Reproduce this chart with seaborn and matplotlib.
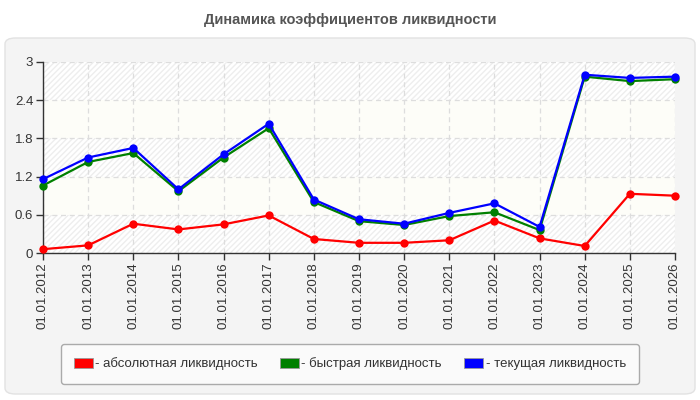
import numpy as np
import pandas as pd
import seaborn as sns
from matplotlib import pyplot as plt
from matplotlib.patches import FancyBboxPatch, Patch

dates = ["01.01.%d" % y for y in range(2012, 2027)]
absolute = [0.06, 0.12, 0.46, 0.37, 0.45, 0.59, 0.22, 0.16, 0.16, 0.20, 0.51, 0.23, 0.11, 0.93, 0.90]
quick = [1.06, 1.43, 1.57, 0.97, 1.50, 1.96, 0.80, 0.50, 0.44, 0.58, 0.64, 0.36, 2.77, 2.70, 2.73]
current = [1.16, 1.50, 1.65, 1.00, 1.55, 2.03, 0.84, 0.53, 0.46, 0.63, 0.78, 0.41, 2.80, 2.75, 2.77]
names = ["- абсолютная ликвидность", "- быстрая ликвидность", "- текущая ликвидность"]
colors = ["#ff0000", "#008000", "#0000ff"]

df = pd.concat([
	pd.DataFrame({"pos": range(len(dates)), "value": vals, "series": name})
	for vals, name in zip([absolute, quick, current], names)
])

sns.set_theme(style="white")
plt.rcParams["font.family"] = ["Liberation Sans", "DejaVu Sans"]

fig = plt.figure(figsize=(7, 4), dpi=100)
fig.patch.set_facecolor("white")

# grey panel behind the chart
panel = FancyBboxPatch((5 / 700, 6 / 400), 690 / 700, 356 / 400,
	boxstyle="round,pad=0,rounding_size=0.015", transform=fig.transFigure,
	facecolor="#f4f4f4", edgecolor="#e2e2e2", lw=1, zorder=-5)
fig.patches.append(panel)

fig.text(0.5, 1 - 20 / 400, "Динамика коэффициентов ликвидности", ha="center", va="center",
	fontsize=10.5, fontweight="bold", color="#555555")

ax = fig.add_axes([43 / 700, 1 - 253 / 400, 632 / 700, 191 / 400])
ax.set_zorder(2)
ax.set_facecolor("white")

# striped bands
for i, lo in enumerate(np.arange(0, 3, 0.6)):
	if i % 2 == 0:
		ax.axhspan(lo, lo + 0.6, facecolor="white", edgecolor="#eeeeee", hatch="//////", lw=0, zorder=0)
	else:
		ax.axhspan(lo, lo + 0.6, facecolor="#fdfdf8", lw=0, zorder=0)

sns.lineplot(data=df, x="pos", y="value", hue="series", palette=colors, marker="o",
	markersize=6, markeredgewidth=0, linewidth=1.6, ax=ax, legend=False, zorder=3)
for ln in ax.lines:
	ln.set_clip_on(False)

ax.set_xlim(0, len(dates) - 1)
ax.set_ylim(0, 3)
ax.set_yticks([0, 0.6, 1.2, 1.8, 2.4, 3])
ax.set_yticklabels(["0", "0.6", "1.2", "1.8", "2.4", "3"])
ax.set_xticks(range(len(dates)))
ax.set_xticklabels(dates, rotation=90)
ax.set_xlabel("")
ax.set_ylabel("")
ax.tick_params(axis="both", labelsize=9.5, colors="#333333", length=5, width=1, direction="out",
	left=True, bottom=True, pad=2)
ax.grid(True, color="#dddddd", linestyle=(0, (4, 3)), lw=0.9)
ax.set_axisbelow(True)
for side in ["top", "right"]:
	ax.spines[side].set_visible(False)
for side in ["left", "bottom"]:
	ax.spines[side].set_color("#333333")
	ax.spines[side].set_linewidth(1)

handles = [Patch(facecolor=c, edgecolor="#999999", lw=0.6) for c in colors]
leg = fig.legend(handles, names, ncol=3, loc="center", bbox_to_anchor=(0.5, 1 - 364 / 400),
	frameon=True, fancybox=True, facecolor="#fafafa", edgecolor="#aaaaaa", fontsize=9.5,
	handlelength=1.4, handleheight=0.8, handletextpad=0.2, columnspacing=1.7,
	borderpad=1.0, framealpha=1)
leg.get_frame().set_linewidth(1)
for t in leg.get_texts():
	t.set_color("#333333")

fig.savefig("out.png", dpi=100)
